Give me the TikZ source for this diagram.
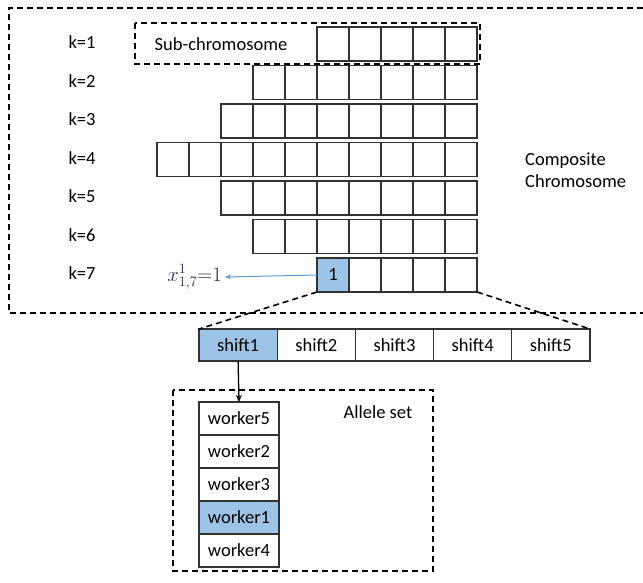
\documentclass[tikz,border=0pt]{standalone}
\usepackage{fontspec}
\setmainfont{Carlito}
\usetikzlibrary{arrows.meta}
\definecolor{selfill}{RGB}{157,195,230}
\definecolor{linkblue}{RGB}{91,155,213}
\definecolor{labnavy}{RGB}{38,42,82}
\definecolor{cellline}{RGB}{50,50,50}
\tikzset{
  gene/.style={draw=cellline, line width=1.2pt, minimum width=32pt, minimum height=34pt,
    inner sep=0pt, outer sep=0pt, font=\fontsize{18.5}{21}\selectfont},
  shiftcell/.style={draw=cellline, line width=1.2pt, minimum width=78.2pt, minimum height=32pt,
    inner sep=0pt, outer sep=0pt, font=\fontsize{18.5}{21}\selectfont},
  workercell/.style={draw=cellline, line width=1.2pt, minimum width=80pt, minimum height=33pt,
    inner sep=0pt, outer sep=0pt, font=\fontsize{18.5}{21}\selectfont},
  groupbox/.style={draw=black, line width=1.6pt, dash pattern=on 6pt off 4pt},
  txt/.style={font=\fontsize{18.5}{22}\selectfont, inner sep=0pt},
  chosen/.style={fill=selfill}
}
\begin{document}
\begin{tikzpicture}[x=1pt, y=-1pt]
\useasboundingbox (0,0) rectangle (643,583);

% composite chromosome frame (open on the right, runs off the page edge)
\draw[groupbox] (643,8) -- (9,8) -- (9,313) -- (643,313);
% sub-chromosome frame
\draw[groupbox] (135,23) rectangle (480,64);
\node[txt] (sublabel) at (221,44) {Sub-chromosome};

% rows of genes, k = 1..7 with their lengths
\foreach \k/\n in {1/5,2/7,3/8,4/10,5/8,6/7,7/5} {
  \pgfmathsetmacro{\yc}{44+38.5*(\k-1)}
  \node[txt] (klab\k) at (82,\yc-1.5) {k=\k};
  \foreach \j in {1,...,\n} {
    \pgfmathsetmacro{\xc}{477-32*\n+32*(\j-1)+16}
    \node[gene] (c-\k-\j) at (\xc,\yc) {};
  }
}
% selected gene
\node[gene, chosen] (sel) at (c-7-1) {1};

\node[txt, align=left, anchor=west] (comp) at (525,170) {Composite\\Chromosome};

% decision variable
\node[font=\fontsize{20}{22}\selectfont, text=labnavy, inner sep=0pt, anchor=east] (xlab) at (222,277) {$x^{1}_{1,7}{=}1$};
\draw[linkblue, line width=1pt, -{Stealth[length=6pt,width=5pt]}] (sel.west) -- ([xshift=3pt]xlab.east);

% shift row
\foreach \i in {1,...,5} {
  \pgfmathsetmacro{\xc}{199+78.2*(\i-1)+39.1}
  \node[shiftcell] (s\i) at (\xc,345) {shift\i};
}
\node[shiftcell, chosen] (s1sel) at (s1) {shift1};

% zoom lines
\draw[groupbox] (c-7-1.south west) -- (s1.north west);
\draw[groupbox] (c-7-5.south east) -- (s5.north east);

% allele set
\draw[groupbox] (173,390) rectangle (433,571);
\node[txt] (allele) at (378,412) {Allele set};
\foreach \w/\r in {5/1,2/2,3/3,1/4,4/5} {
  \pgfmathsetmacro{\yc}{402+33*(\r-1)+16.5}
  \node[workercell] (w\w) at (239,\yc) {worker\w};
}
\node[workercell, chosen] (w1sel) at (w1) {worker1};

\draw[black, line width=1.3pt, -{Stealth[length=7pt,width=6pt]}] (s1.south) -- (w5.north);
\end{tikzpicture}
\end{document}
